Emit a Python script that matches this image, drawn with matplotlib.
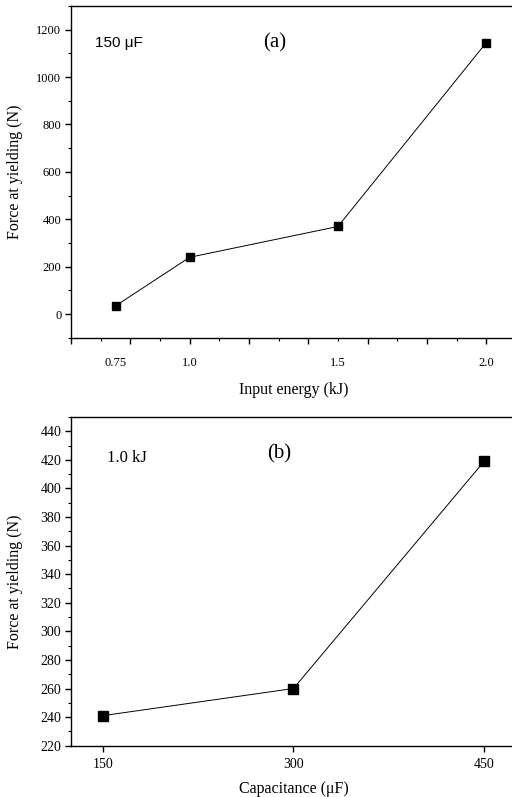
import matplotlib
matplotlib.use('Agg')
import matplotlib.pyplot as plt
from matplotlib.ticker import MultipleLocator, NullFormatter

# (a) force at yielding vs input energy, 150 uF
energy_kj = [0.75, 1.0, 1.5, 2.0]
force_a = [35, 240, 370, 1145]
energy_labels = ['0.75', '1.0', '1.5', '2.0']

# (b) force at yielding vs capacitance, 1.0 kJ
capacitance_uf = [150, 300, 450]
force_b = [241, 260, 419]
cap_labels = ['150', '300', '450']

plt.rcParams['font.family'] = ['Liberation Serif', 'DejaVu Serif']

fig = plt.figure(figsize=(5.12, 7.97), dpi=100)
ax1 = fig.add_axes([0.1387, 0.576, 0.869, 0.4166])
ax2 = fig.add_axes([0.1387, 0.0644, 0.869, 0.4124])


def style_axes(ax, fs):
    for side in ('top', 'bottom', 'left', 'right'):
        ax.spines[side].set_linewidth(1.0)
    ax.tick_params(direction='out', which='major', length=4, width=1.0,
                   labelsize=fs, pad=3)
    ax.tick_params(direction='out', which='minor', length=2.5, width=0.8)
    ax.tick_params(top=False, right=False)


# panel (a)
ax1.plot(energy_kj, force_a, color='black', lw=0.7, marker='s', ms=5.5,
         mfc='black', mec='black')
ax1.set_xlim(0.6, 2.1)
ax1.set_ylim(-100, 1300)
ax1.xaxis.set_major_locator(MultipleLocator(0.2))
ax1.xaxis.set_minor_locator(MultipleLocator(0.1))
ax1.xaxis.set_major_formatter(NullFormatter())
ax1.yaxis.set_major_locator(MultipleLocator(200))
ax1.yaxis.set_minor_locator(MultipleLocator(100))
style_axes(ax1, 9)
sec1 = ax1.secondary_xaxis('bottom')
sec1.set_xticks(energy_kj, labels=energy_labels)
sec1.tick_params(length=0, pad=14, labelsize=9)
sec1.spines['bottom'].set_visible(False)
ax1.set_xlabel('Input energy (kJ)', fontsize=11.5, labelpad=25)
ax1.set_ylabel('Force at yielding (N)', fontsize=11.5)
ax1.yaxis.set_label_coords(-0.108, 0.5)
ax1.text(0.054, 0.889, '150 \u03bcF', transform=ax1.transAxes, fontsize=11,
         family=['Liberation Sans', 'DejaVu Sans'], va='center')
ax1.text(0.431, 0.89, '(a)', transform=ax1.transAxes, fontsize=15, va='center')

# panel (b)
ax2.plot(capacitance_uf, force_b, color='black', lw=0.7, marker='s', ms=6.5,
         mfc='black', mec='black')
ax2.set_xlim(125, 475)
ax2.set_ylim(220, 450)
ax2.set_xticks(capacitance_uf, labels=cap_labels)
ax2.yaxis.set_major_locator(MultipleLocator(20))
ax2.yaxis.set_minor_locator(MultipleLocator(10))
style_axes(ax2, 10)
ax2.tick_params(axis='x', which='major', pad=5)
ax2.set_xlabel('Capacitance (\u03bcF)', fontsize=11.5, labelpad=7)
ax2.set_ylabel('Force at yielding (N)', fontsize=11.5)
ax2.yaxis.set_label_coords(-0.108, 0.5)
ax2.text(0.08, 0.875, '1.0 kJ', transform=ax2.transAxes, fontsize=12, va='center')
ax2.text(0.44, 0.887, '(b)', transform=ax2.transAxes, fontsize=15, va='center')

fig.savefig('out.png', dpi=100)
